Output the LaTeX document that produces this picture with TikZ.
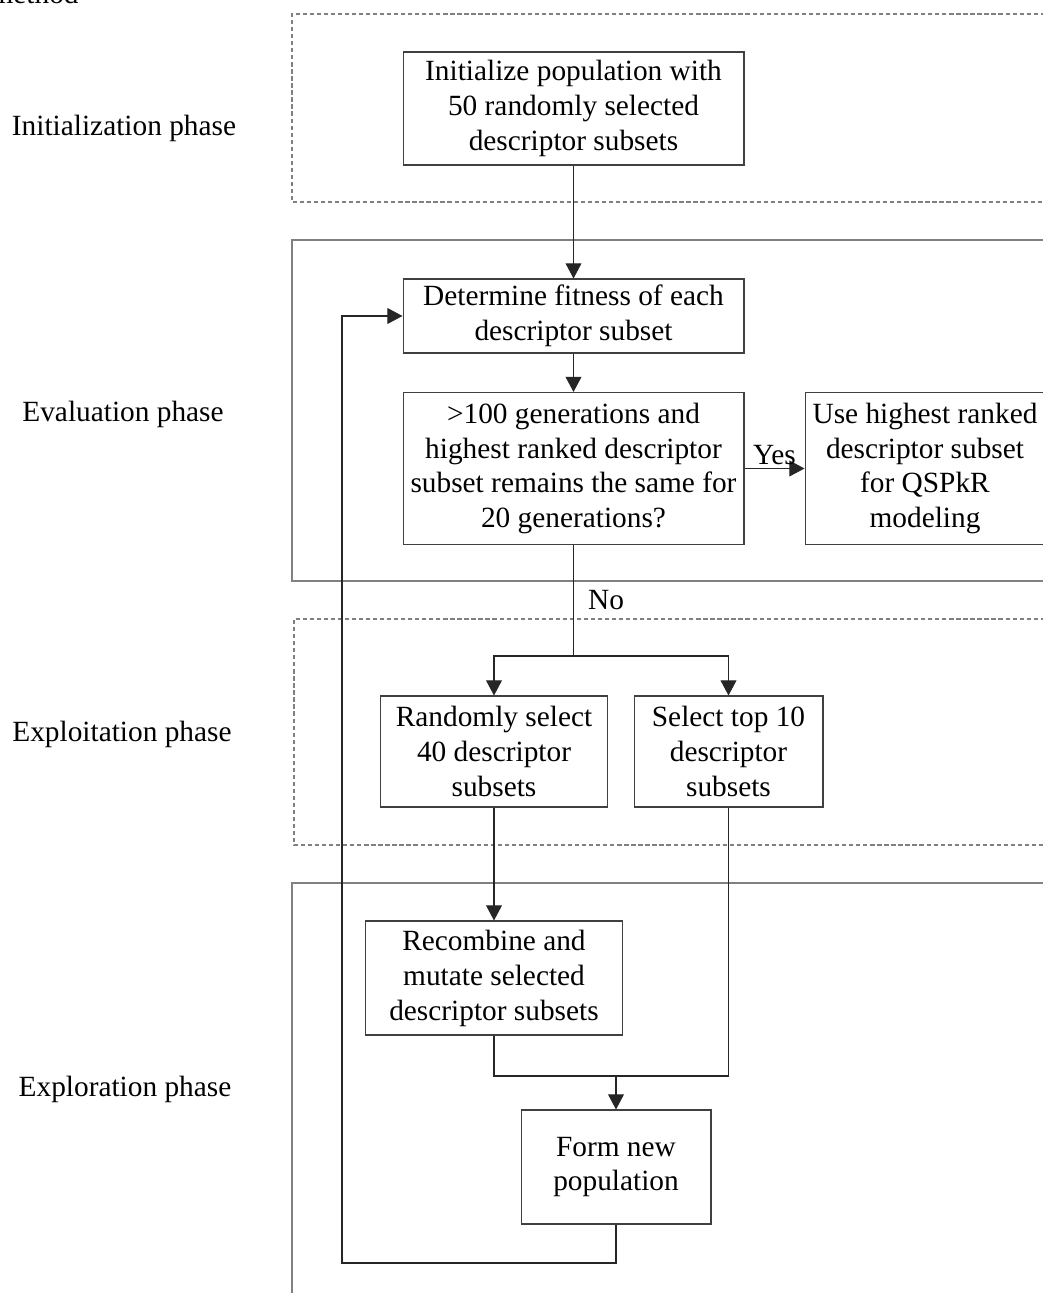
\documentclass[tikz,border=0pt]{standalone}
\usepackage{fontspec}
\setmainfont{Liberation Serif}
\usepackage{tikz}
\usetikzlibrary{arrows.meta,positioning,calc}

\begin{document}
\begin{tikzpicture}[
    x=0.02cm, y=-0.02cm,
    font=\fontsize{16.7}{19.9}\selectfont,
    box/.style={draw=black!75, line width=0.6pt, rectangle, align=center, inner sep=0pt},
    frame/.style={draw=black!50, line width=0.7pt},
    dframe/.style={draw=black!50, line width=0.6pt, dash pattern=on 2.4pt off 1.6pt},
    line/.style={draw=black!85, line width=0.6pt},
    arr/.style={line, -{Triangle[length=8.6pt,width=9pt]}},
    phase/.style={anchor=center}
]
    \useasboundingbox (0,0) rectangle (1043,1293);

    % Caption remnant at the top
    \node[anchor=base east, inner sep=0pt] (title) at (79,4) {method};

    % Phase frames
    \draw[dframe] (1080,14) -- (292,14) -- (292,202) -- (1080,202);
    \draw[frame] (1080,240) -- (292,240) -- (292,581) -- (1080,581);
    \draw[dframe] (1080,619) -- (294,619) -- (294,845) -- (1080,845);
    \draw[frame] (1080,883) -- (292,883) -- (292,1320);

    % Phase labels
    \node[phase] (initlbl) at (124,128) {Initialization phase};
    \node[phase] (evallbl) at (123,414) {Evaluation phase};
    \node[phase] (exploitlbl) at (122,734) {Exploitation phase};
    \node[phase] (explorelbl) at (125,1089) {Exploration phase};

    % Boxes
    \node[box, minimum width=6.82cm, minimum height=2.26cm] (init) at (573.5,108.5)
        {Initialize population with\\50 randomly selected\\descriptor subsets};
    \node[box, minimum width=6.82cm, minimum height=1.48cm] (fit) at (573.5,316)
        {Determine fitness of each\\descriptor subset};
    \node[box, minimum width=6.82cm, minimum height=3.04cm] (check) at (573.5,468.5)
        {>100 generations and\\highest ranked descriptor\\subset remains the same for\\20 generations?};
    \node[box, minimum width=4.8cm, minimum height=3.04cm] (use) at (925,468.5)
        {Use highest ranked\\descriptor subset\\for QSPkR\\modeling};
    \node[box, minimum width=4.54cm, minimum height=2.22cm] (rand) at (494,751.5)
        {Randomly select\\40 descriptor\\subsets};
    \node[box, minimum width=3.78cm, minimum height=2.22cm] (top) at (728.5,751.5)
        {Select top 10\\descriptor\\subsets};
    \node[box, minimum width=5.14cm, minimum height=2.28cm] (recomb) at (494,978)
        {Recombine and\\mutate selected\\descriptor subsets};
    \node[box, minimum width=3.8cm, minimum height=2.28cm] (form) at (616,1167)
        {Form new\\population};

    % Helper points
    \coordinate (split) at (573.5,656);
    \coordinate (merge) at (616,1076);
    \coordinate (loop) at (342,1263);

    % Connectors
    \draw[arr] (init) -- (fit);
    \draw[arr] (fit) -- (check);
    \draw[arr] (check) -- node[above, inner sep=2pt] {Yes} (use);
    \draw[line] (check.south) -- node[right, inner sep=8pt] {No} (split);
    \draw[arr] (split) -| (rand);
    \draw[arr] (split) -| (top);
    \draw[arr] (rand) -- (recomb);
    \draw[line] (recomb.south) |- (merge);
    \draw[line] (top.south) |- (merge);
    \draw[arr] (merge) -- (form);
    \draw[arr] (form.south) |- (loop) |- (fit.west);
\end{tikzpicture}
\end{document}
